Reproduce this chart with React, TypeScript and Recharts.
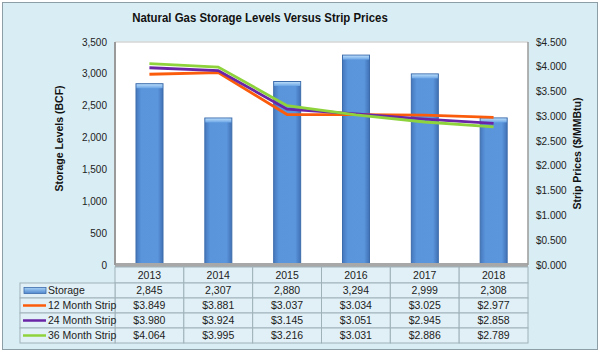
import React from "react";
import { ComposedChart, Bar, Line, XAxis, YAxis, CartesianGrid } from "recharts";

const years = ["2013", "2014", "2015", "2016", "2017", "2018"];
const storage = [2845, 2307, 2880, 3294, 2999, 2308];
const strip12 = [3.849, 3.881, 3.037, 3.034, 3.025, 2.977];
const strip24 = [3.98, 3.924, 3.145, 3.051, 2.945, 2.858];
const strip36 = [4.064, 3.995, 3.216, 3.031, 2.886, 2.789];
const leftTicks = [0, 500, 1000, 1500, 2000, 2500, 3000, 3500];
const rightTicks = [0, 0.5, 1, 1.5, 2, 2.5, 3, 3.5, 4, 4.5];

const seriesNames = ["Storage", "12 Month Strip", "24 Month Strip", "36 Month Strip"];
const COLORS = { storage: "#5b95dc", s12: "#fb5c0c", s24: "#6a25a6", s36: "#8ed33c" };

const data = years.map((y, i) => ({
  year: y,
  storage: storage[i],
  s12: strip12[i],
  s24: strip24[i],
  s36: strip36[i],
}));

const FONT = "'Liberation Sans', Arial, Helvetica, sans-serif";
const W = 600;
const H = 352;
const LEFT_W = 115;
const RIGHT_W = 72;
const COL_W = (W - LEFT_W - RIGHT_W) / years.length;
const LABEL_W = 95;
const ROW_H = 15;
const CELL_FILL = "#e1f0f6";
const CELL_STROKE = "#9fb2ba";

const fmtStorage = (v: number) => v.toLocaleString("en-US");
const fmtPrice = (v: number) => "$" + v.toFixed(3);

const BarShape = (props: any) => {
  const { x, y, width, height } = props;
  if (!height || height <= 0) return null;
  return (
    <g>
      <rect x={x} y={y} width={width} height={height} fill="url(#barGrad)" stroke="#3c6cab" strokeWidth={1} />
      <rect x={x + 0.5} y={y + 0.5} width={width - 1} height={4} fill="url(#capGrad)" />
    </g>
  );
};

const TableTick = (props: any) => {
  const { x, y, payload } = props;
  const i = payload.index;
  const left = x - COL_W / 2;
  const top = y + 2;
  const headerH = 16;
  const rowTop = top + headerH;
  const values = [fmtStorage(storage[i]), fmtPrice(strip12[i]), fmtPrice(strip24[i]), fmtPrice(strip36[i])];
  return (
    <g>
      <rect x={left} y={top} width={COL_W} height={headerH} fill={CELL_FILL} stroke={CELL_STROKE} />
      <text x={x} y={top + headerH / 2 + 3.5} textAnchor="middle" fontSize={10.5} fill="#222" fontFamily={FONT}>
        {years[i]}
      </text>
      {values.map((v, r) => (
        <g key={r}>
          <rect x={left} y={rowTop + r * ROW_H} width={COL_W} height={ROW_H} fill={CELL_FILL} stroke={CELL_STROKE} />
          <text x={x} y={rowTop + r * ROW_H + ROW_H / 2 + 3.5} textAnchor="middle" fontSize={10.5} fill="#222" fontFamily={FONT}>
            {v}
          </text>
        </g>
      ))}
      {i === 0 &&
        seriesNames.map((name, r) => {
          const ry = rowTop + r * ROW_H;
          const lx = left - LABEL_W;
          const cy = ry + ROW_H / 2;
          const lineColor = [COLORS.storage, COLORS.s12, COLORS.s24, COLORS.s36][r];
          return (
            <g key={"l" + r}>
              <rect x={lx} y={ry} width={LABEL_W} height={ROW_H} fill={CELL_FILL} stroke={CELL_STROKE} />
              {r === 0 ? (
                <rect x={lx + 4} y={cy - 3} width={22} height={6} fill="url(#legGrad)" stroke="#3c6cab" strokeWidth={0.8} />
              ) : (
                <line x1={lx + 3} x2={lx + 26} y1={cy} y2={cy} stroke={lineColor} strokeWidth={2.5} />
              )}
              <text x={lx + 28} y={cy + 3.5} fontSize={10.5} fill="#222" fontFamily={FONT}>
                {name}
              </text>
            </g>
          );
        })}
    </g>
  );
};

const LeftTitle = (props: any) => {
  const vb = props.viewBox || { x: 0, y: 42, width: LEFT_W, height: 223 };
  const cx = vb.x + 63;
  const cy = vb.y + vb.height / 2 - 15;
  return (
    <text x={cx} y={cy} transform={`rotate(-90 ${cx} ${cy})`} textAnchor="middle" fontSize={10.5} fontWeight="bold" fill="#111" fontFamily={FONT}>
      Storage Levels (BCF)
    </text>
  );
};

const RightTitle = (props: any) => {
  const vb = props.viewBox || { x: 528, y: 42, width: RIGHT_W, height: 223 };
  const cx = vb.x + 53;
  const cy = vb.y + vb.height / 2;
  return (
    <text x={cx} y={cy} transform={`rotate(-90 ${cx} ${cy})`} textAnchor="middle" fontSize={10.5} fontWeight="bold" fill="#111" fontFamily={FONT}>
      Strip Prices ($/MMBtu)
    </text>
  );
};

export default function App() {
  return (
    <div style={{ position: "fixed", left: 0, top: 0, width: W, height: H, background: "#fff", fontFamily: FONT }}>
      <div
        style={{
          position: "absolute",
          left: 2,
          top: 2,
          width: 594,
          height: 346,
          background: "#d9edf4",
          border: "1px solid #8e9ea6",
        }}
      />
      <div
        style={{
          position: "absolute",
          left: 0,
          top: 10,
          width: 520,
          textAlign: "center",
          fontSize: 13.5,
          fontWeight: "bold",
          color: "#111",
          transform: "scaleX(0.845)",
          transformOrigin: "260px 50%",
        }}
      >
        Natural Gas Storage Levels Versus Strip Prices
      </div>
      <div style={{ position: "absolute", left: 0, top: 0 }}>
        <ComposedChart width={W} height={H} data={data} margin={{ top: 42, right: 0, bottom: 0, left: 0 }} barCategoryGap={0}>
          <defs>
            <linearGradient id="barGrad" x1="0" y1="0" x2="1" y2="0">
              <stop offset="0" stopColor="#4678bd" />
              <stop offset="0.2" stopColor="#5a95dc" />
              <stop offset="0.8" stopColor="#5b96dd" />
              <stop offset="1" stopColor="#4171b5" />
            </linearGradient>
            <linearGradient id="capGrad" x1="0" y1="0" x2="0" y2="1">
              <stop offset="0" stopColor="#b7daf8" />
              <stop offset="1" stopColor="#6aa5e6" />
            </linearGradient>
            <linearGradient id="legGrad" x1="0" y1="0" x2="0" y2="1">
              <stop offset="0" stopColor="#a9d1f5" />
              <stop offset="1" stopColor="#4f88cf" />
            </linearGradient>
          </defs>
          <CartesianGrid vertical={false} stroke="#d6d6d6" strokeWidth={1.5} fill="#ffffff" />
          <XAxis
            dataKey="year"
            height={87}
            tickLine={false}
            tickSize={0}
            tickMargin={0}
            axisLine={{ stroke: "#a8a8a8", strokeWidth: 4 }}
            tick={<TableTick />}
            interval={0}
          />
          <YAxis
            yAxisId="left"
            width={LEFT_W}
            domain={[0, 3500]}
            ticks={leftTicks}
            tickFormatter={fmtStorage}
            tickLine={false}
            axisLine={{ stroke: "#9a9a9a", strokeWidth: 2 }}
            tick={{ fontSize: 10, fill: "#222", fontFamily: FONT }}
            label={<LeftTitle />}
          />
          <YAxis
            yAxisId="right"
            orientation="right"
            width={RIGHT_W}
            domain={[0, 4.5]}
            ticks={rightTicks}
            tickFormatter={fmtPrice}
            tickLine={false}
            axisLine={{ stroke: "#9a9a9a", strokeWidth: 1.5 }}
            tick={{ fontSize: 10, fill: "#222", fontFamily: FONT }}
            label={<RightTitle />}
          />
          <Bar yAxisId="left" dataKey="storage" barSize={27} shape={<BarShape />} isAnimationActive={false} />
          <Line yAxisId="right" dataKey="s12" stroke={COLORS.s12} strokeWidth={2.8} dot={false} isAnimationActive={false} />
          <Line yAxisId="right" dataKey="s24" stroke={COLORS.s24} strokeWidth={2.8} dot={false} isAnimationActive={false} />
          <Line yAxisId="right" dataKey="s36" stroke={COLORS.s36} strokeWidth={2.8} dot={false} isAnimationActive={false} />
        </ComposedChart>
      </div>
    </div>
  );
}
